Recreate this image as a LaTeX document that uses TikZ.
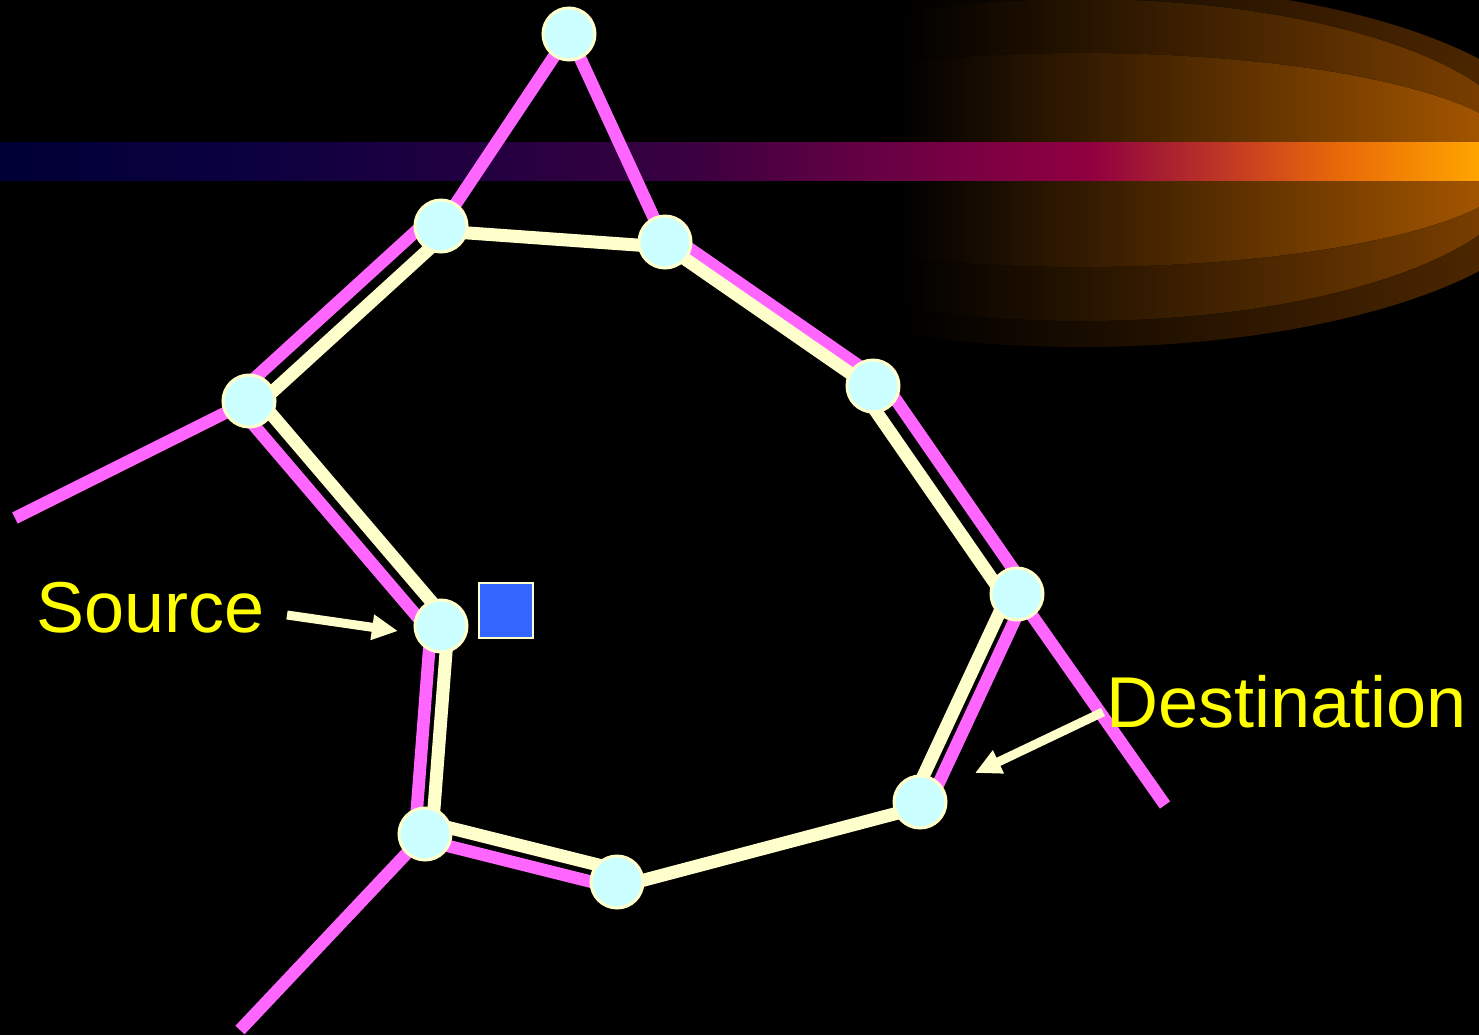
\documentclass[tikz,border=0pt]{standalone}
\usepackage{fontspec}
\setmainfont{Liberation Sans}
\usetikzlibrary{calc,arrows.meta}
\definecolor{mag}{HTML}{FF66FF}
\definecolor{cream}{HTML}{FFFFCC}
\definecolor{nodefill}{HTML}{CCFFFF}
\definecolor{sqblue}{HTML}{3366FF}
\definecolor{labelyellow}{HTML}{FFFF00}
\definecolor{layA}{HTML}{603000}
\definecolor{layAm}{HTML}{402200}
\definecolor{layB}{HTML}{904A00}
\definecolor{layBm}{HTML}{5E3000}
\definecolor{layC}{HTML}{C06400}
\definecolor{layCm}{HTML}{8A4600}
\definecolor{bA}{HTML}{000035}
\definecolor{bB}{HTML}{0A0040}
\definecolor{bC}{HTML}{200040}
\definecolor{bD}{HTML}{3A0040}
\definecolor{bE}{HTML}{680044}
\definecolor{bF}{HTML}{900040}
\definecolor{bG}{HTML}{A82030}
\definecolor{bH}{HTML}{C84020}
\definecolor{bI}{HTML}{E86A08}
\definecolor{bJ}{HTML}{FFA400}
\pgfdeclarehorizontalshading{bandshade}{100bp}{color(0bp)=(bA); color(25bp)=(bA); color(32.78bp)=(bB); color(40.55bp)=(bC); color(48.33bp)=(bD); color(54.75bp)=(bE); color(61.85bp)=(bF); color(64.38bp)=(bG); color(67.09bp)=(bH); color(70.3bp)=(bI); color(75bp)=(bJ); color(100bp)=(bJ)}
\pgfdeclarelayer{back}
\pgfdeclarelayer{lines}
\pgfsetlayers{back,lines,main}
\begin{document}
\begin{tikzpicture}[x=0.5pt,y=-0.5pt,
  magline/.style={draw=mag, line width=6.25pt},
  creamline/.style={draw=cream, line width=6.5pt},
  netnode/.style={circle, fill=nodefill, draw=cream, line width=1.5pt, minimum size=26pt, inner sep=0pt},
  lbl/.style={text=labelyellow, font=\fontsize{36}{42}\selectfont, inner sep=0pt},
  pointer/.style={draw=cream, line width=4.5pt, -{Triangle[length=13pt,width=12pt]}}]
\useasboundingbox (0,0) rectangle (1479,1035);
% nodes
\node[netnode] (T) at (569,34) {};
\node[netnode] (A) at (441,226) {};
\node[netnode] (B) at (665,242) {};
\node[netnode] (C) at (249,401) {};
\node[netnode] (D) at (873,386) {};
\node[netnode] (S) at (441,626) {};
\node[netnode] (E) at (1017,594) {};
\node[netnode] (F) at (920,802) {};
\node[netnode] (G) at (425,834) {};
\node[netnode] (H) at (617,882) {};
\coordinate (endL) at (15,518);
\coordinate (endBL) at (240,1030);
\coordinate (endR) at (1165,805);
% background
\begin{pgfonlayer}{back}
\fill[black] (0,0) rectangle (1479,1035);
\fill[left color=black, middle color=layAm, right color=layA] ($(1081,165)+(111.68:490 and 182)$) arc[start angle=111.68, end angle=-111.68, x radius=490, y radius=182] -- cycle;
\fill[left color=black, middle color=layBm, right color=layB] ($(1081,160)+(113.7:450 and 161)$) arc[start angle=113.7, end angle=-113.7, x radius=450, y radius=161] -- cycle;
\fill[left color=black, middle color=layCm, right color=layC] ($(1081,160)+(114.06:444 and 107)$) arc[start angle=114.06, end angle=-114.06, x radius=444, y radius=107] -- cycle;
\shade[shading=bandshade] (0,142) rectangle (1479,180);
\end{pgfonlayer}
% network lines
\begin{pgfonlayer}{lines}
\draw[magline] (T.center) -- (A.center);
\draw[magline] (T.center) -- (B.center);
\draw[magline] (C.center) -- (endL);
\draw[magline] (G.center) -- (endBL);
\draw[magline] (E.center) -- (endR);
\draw[magline] ($(A)!-6.5pt!90:(C)$) -- ($(C)!-6.5pt!-90:(A)$);
\draw[magline] ($(C)!-6pt!90:(S)$) -- ($(S)!-6pt!-90:(C)$);
\draw[magline] ($(S)!-5pt!90:(G)$) -- ($(G)!-5pt!-90:(S)$);
\draw[magline] ($(G)!-3pt!90:(H)$) -- ($(H)!-3pt!-90:(G)$);
\draw[magline] ($(F)!-4.5pt!90:(E)$) -- ($(E)!-4.5pt!-90:(F)$);
\draw[magline] ($(E)!-5.5pt!90:(D)$) -- ($(D)!-5.5pt!-90:(E)$);
\draw[magline] ($(D)!-4.3pt!90:(B)$) -- ($(B)!-4.3pt!-90:(D)$);
\draw[creamline] ($(A)!4.5pt!90:(C)$) -- ($(C)!4.5pt!-90:(A)$);
\draw[creamline] ($(C)!4.25pt!90:(S)$) -- ($(S)!4.25pt!-90:(C)$);
\draw[creamline] ($(S)!3.5pt!90:(G)$) -- ($(G)!3.5pt!-90:(S)$);
\draw[creamline] ($(G)!6pt!90:(H)$) -- ($(H)!6pt!-90:(G)$);
\draw[creamline] ($(H)!-2.5pt!90:(F)$) -- ($(F)!-2.5pt!-90:(H)$);
\draw[creamline] ($(F)!4pt!90:(E)$) -- ($(E)!4pt!-90:(F)$);
\draw[creamline] ($(E)!6pt!90:(D)$) -- ($(D)!6pt!-90:(E)$);
\draw[creamline] ($(D)!1.25pt!90:(B)$) -- ($(B)!1.25pt!-90:(D)$);
\draw[creamline] ($(B)!2.5pt!90:(A)$) -- ($(A)!2.5pt!-90:(B)$);
\end{pgfonlayer}
% source marker square
\node[draw=cream, fill=sqblue, line width=1pt, minimum width=27pt, minimum height=27.5pt, inner sep=0pt] (sq) at (505.5,610) {};
% labels and pointers
\node[lbl, anchor=base west] (srcLbl) at (36,632) {Source};
\node[lbl, anchor=base west] (dstLbl) at (1106,727) {Destination};
\coordinate (srcTail) at (287,615);
\coordinate (srcTip) at (398,631);
\coordinate (dstTail) at (1103,712);
\coordinate (dstTip) at (975,773);
\draw[pointer] (srcTail) -- (srcTip);
\draw[pointer] (dstTail) -- (dstTip);
\end{tikzpicture}
\end{document}
